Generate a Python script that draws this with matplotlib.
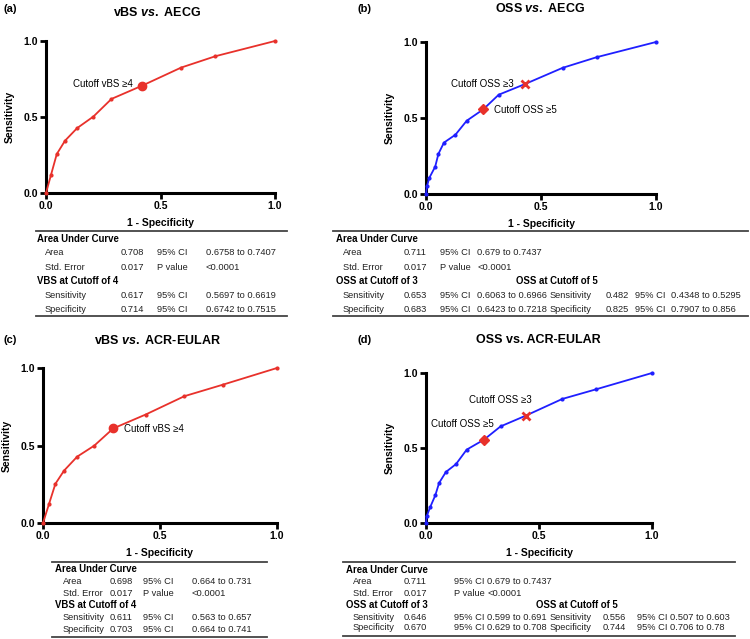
import matplotlib
matplotlib.use("Agg")
import matplotlib.pyplot as plt
from matplotlib.lines import Line2D

plt.rcParams['font.family'] = ['Liberation Sans', 'DejaVu Sans']
plt.rcParams['mathtext.fontset'] = 'custom'
plt.rcParams['mathtext.it'] = 'Liberation Sans:italic:bold'
plt.rcParams['mathtext.rm'] = 'Liberation Sans:bold'

W, H = 750, 639
RED = '#e8312b'
BLUE = '#1f1fff'

# ROC curves: 1 - specificity, sensitivity
vbs_aecg_x = [0, 0.022, 0.047, 0.083, 0.136, 0.207, 0.286, 0.421, 0.59, 0.74, 1.0]
vbs_aecg_y = [0, 0.12, 0.256, 0.344, 0.427, 0.503, 0.619, 0.707, 0.825, 0.90, 1.0]
vbs_aecg_cut = (0.421, 0.707)

oss_aecg_x = [0, 0.004, 0.014, 0.04, 0.054, 0.078, 0.128, 0.177, 0.249, 0.316, 0.43, 0.594, 0.742, 1.0]
oss_aecg_y = [0, 0.05, 0.105, 0.18, 0.264, 0.338, 0.39, 0.482, 0.557, 0.653, 0.723, 0.83, 0.90, 1.0]
oss_aecg_cut3 = (0.43, 0.723)
oss_aecg_cut5 = (0.249, 0.557)

vbs_acr_x = [0, 0.026, 0.053, 0.09, 0.146, 0.219, 0.30, 0.439, 0.604, 0.77, 1.0]
vbs_acr_y = [0, 0.124, 0.253, 0.338, 0.428, 0.499, 0.61, 0.70, 0.818, 0.893, 1.0]
vbs_acr_cut = (0.30, 0.61)

oss_acr_x = [0, 0.003, 0.018, 0.041, 0.058, 0.088, 0.133, 0.18, 0.257, 0.33, 0.442, 0.603, 0.752, 1.0]
oss_acr_y = [0, 0.044, 0.104, 0.184, 0.267, 0.34, 0.393, 0.489, 0.556, 0.644, 0.716, 0.827, 0.891, 1.0]
oss_acr_cut3 = (0.442, 0.716)
oss_acr_cut5 = (0.257, 0.556)

tick_vals = [0, 0.5, 1.0]
tick_labels = ['0.0', '0.5', '1.0']

# tables: header strings and (label, value, ci label, range) rows
tab_a = ["Area Under Curve",
         ("Area", "0.708", "95% CI", "0.6758 to 0.7407"),
         ("Std. Error", "0.017", "P value", "<0.0001"),
         "VBS at Cutoff of 4",
         ("Sensitivity", "0.617", "95% CI", "0.5697 to 0.6619"),
         ("Specificity", "0.714", "95% CI", "0.6742 to 0.7515")]
tab_c = ["Area Under Curve",
         ("Area", "0.698", "95% CI", "0.664 to 0.731"),
         ("Std. Error", "0.017", "P value", "<0.0001"),
         "VBS at Cutoff of 4",
         ("Sensitivity", "0.611", "95% CI", "0.563 to 0.657"),
         ("Specificity", "0.703", "95% CI", "0.664 to 0.741")]
tab_b = ["Area Under Curve",
         ("Area", "0.711", "95% CI", "0.679 to 0.7437"),
         ("Std. Error", "0.017", "P value", "<0.0001"),
         "OSS at Cutoff of 3",
         ("Sensitivity", "0.653", "95% CI", "0.6063 to 0.6966"),
         ("Specificity", "0.683", "95% CI", "0.6423 to 0.7218")]
tab_b2 = ["OSS at Cutoff of 5",
          ("Sensitivity", "0.482", "95% CI", "0.4348 to 0.5295"),
          ("Specificity", "0.825", "95% CI", "0.7907 to 0.856")]
tab_d = ["Area Under Curve",
         ("Area", "0.711", "95% CI", "0.679 to 0.7437"),
         ("Std. Error", "0.017", "P value", "<0.0001"),
         "OSS at Cutoff of 3",
         ("Sensitivity", "0.646", "95% CI", "0.599 to 0.691"),
         ("Specificity", "0.670", "95% CI", "0.629 to 0.708")]
tab_d2 = ["OSS at Cutoff of 5",
          ("Sensitivity", "0.556", "95% CI", "0.507 to 0.603"),
          ("Specificity", "0.744", "95% CI", "0.706 to 0.78")]

fig = plt.figure(figsize=(W / 100, H / 100), dpi=100)


def fx(x):
    return x / W


def fy(y):
    return 1 - y / H


def make_axes(left, top, right, bottom):
    ax = fig.add_axes([fx(left), fy(bottom), (right - left) / W, (bottom - top) / H])
    ax.set_xlim(0, 1)
    ax.set_ylim(0, 1)
    for s in ['top', 'right']:
        ax.spines[s].set_visible(False)
    for s in ['left', 'bottom']:
        ax.spines[s].set_linewidth(2.2)
    ax.set_xticks(tick_vals)
    ax.set_xticklabels(tick_labels)
    ax.set_yticks(tick_vals)
    ax.set_yticklabels(tick_labels)
    ax.tick_params(direction='out', length=4, width=2, labelsize=7.5, pad=2)
    for lab in ax.get_xticklabels() + ax.get_yticklabels():
        lab.set_fontweight('bold')
    ax.set_xlabel('1 - Specificity', fontsize=7.5, fontweight='bold', labelpad=5)
    ax.set_ylabel('Sensitivity', fontsize=7.5, fontweight='bold', labelpad=6)
    return ax


def draw_curve(ax, x, y, color):
    ax.plot(x, y, color=color, lw=1.3, marker='o', ms=2, clip_on=False, zorder=3)


def draw_table(rows, ys, cols, hdr_x, fs=6.7):
    for row, y in zip(rows, ys):
        if isinstance(row, str):
            fig.text(fx(hdr_x), fy(y), row, fontsize=fs + 0.2, fontweight='bold', va='center')
        else:
            for txt, x in zip(row, cols):
                fig.text(fx(x), fy(y), txt, fontsize=fs, va='center', color='#222222')


def hline(x0, x1, y):
    fig.add_artist(Line2D([fx(x0), fx(x1)], [fy(y), fy(y)], color='#444444', lw=1.3))


def title(x, y, s):
    fig.text(fx(x), fy(y), s, fontsize=9, fontweight='bold', ha='center', va='center')


def panel(x, y, s):
    fig.text(fx(x), fy(y), s, fontsize=8, fontweight='bold', va='center')


# (a) vBS vs AECG
ax = make_axes(46, 41, 275, 193)
draw_curve(ax, vbs_aecg_x, vbs_aecg_y, RED)
ax.plot(*vbs_aecg_cut, 'o', color=RED, ms=6, zorder=4)
ax.text(0.38, 0.72, 'Cutoff vBS ≥4', fontsize=7, ha='right', va='center')
title(157, 13, r'vBS $\mathit{vs.}$ AECG')
panel(3, 9, '(a)')
hline(36, 287, 231)
hline(36, 287, 316)
draw_table(tab_a, [239, 253, 267, 281, 295, 309], [45, 121, 157, 206], 37)

# (b) OSS vs AECG
ax = make_axes(426, 42, 656, 194)
draw_curve(ax, oss_aecg_x, oss_aecg_y, BLUE)
ax.plot(*oss_aecg_cut3, 'x', color=RED, ms=6, mew=2, zorder=4)
ax.plot(*oss_aecg_cut5, 'D', color=RED, ms=5, zorder=4)
ax.text(0.383, 0.725, 'Cutoff OSS ≥3', fontsize=7, ha='right', va='center')
ax.text(0.296, 0.55, 'Cutoff OSS ≥5', fontsize=7, ha='left', va='center')
title(540, 8, r'OSS $\mathit{vs.}$ AECG')
panel(358, 9, '(b)')
hline(333, 748, 231)
hline(333, 748, 316)
ys_b = [239, 253, 267, 281, 295, 309]
draw_table(tab_b, ys_b, [343, 404, 440, 477], 336)
draw_table(tab_b2, ys_b[3:], [550, 606, 635, 671], 516)

# (c) vBS vs ACR-EULAR
ax = make_axes(43, 368, 277, 523)
draw_curve(ax, vbs_acr_x, vbs_acr_y, RED)
ax.plot(*vbs_acr_cut, 'o', color=RED, ms=6, zorder=4)
ax.text(0.346, 0.606, 'Cutoff vBS ≥4', fontsize=7, ha='left', va='center')
title(157, 340, r'vBS $\mathit{vs.}$ ACR-EULAR')
panel(3, 340, '(c)')
hline(52, 267, 562)
hline(52, 267, 637)
draw_table(tab_c, [569, 581, 593, 605, 618, 630], [63, 110, 143, 192], 55)

# (d) OSS vs ACR-EULAR
ax = make_axes(426, 373, 652, 523)
draw_curve(ax, oss_acr_x, oss_acr_y, BLUE)
ax.plot(*oss_acr_cut3, 'x', color=RED, ms=6, mew=2, zorder=4)
ax.plot(*oss_acr_cut5, 'D', color=RED, ms=5, zorder=4)
ax.text(0.19, 0.82, 'Cutoff OSS ≥3', fontsize=7, ha='left', va='center')
ax.text(0.022, 0.66, 'Cutoff OSS ≥5', fontsize=7, ha='left', va='center')
title(538, 340, 'OSS vs. ACR-EULAR')
panel(358, 340, '(d)')
hline(343, 735, 562)
hline(343, 735, 636)
ys_d = [570, 582, 593, 605, 617, 628]
draw_table(tab_d, ys_d, [353, 404, 454, 487], 346)
draw_table(tab_d2, ys_d[3:], [550, 603, 637, 670], 536)

fig.savefig('out.png', dpi=100)
